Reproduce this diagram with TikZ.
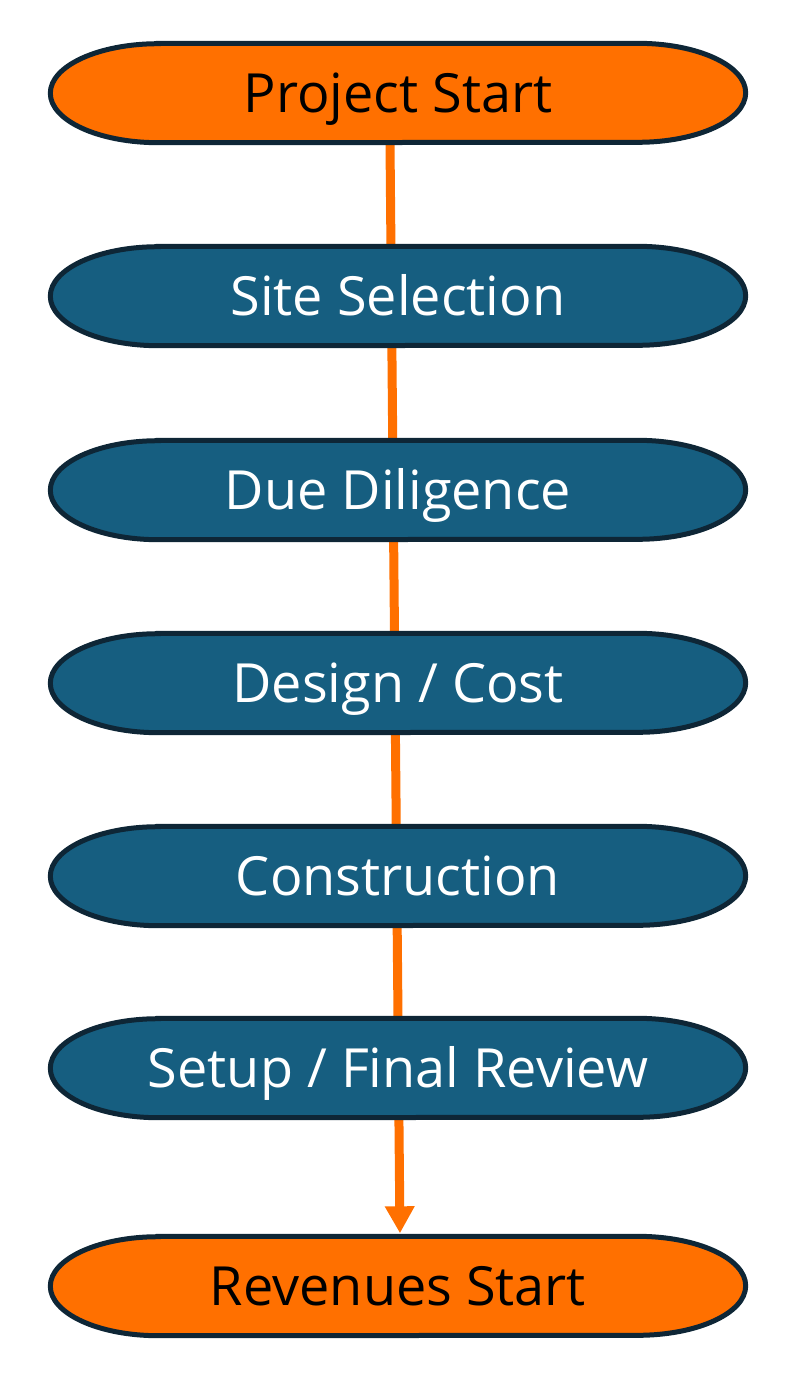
\documentclass[tikz,border=0pt]{standalone}
\usepackage{fontspec}
\setmainfont{Open Sans}
\usepackage{tikz}
\usetikzlibrary{arrows.meta,backgrounds,calc}
\definecolor{PhaseOrange}{HTML}{FF7000}
\definecolor{PhaseBlue}{HTML}{165E80}
\definecolor{PhaseEdge}{HTML}{0E2636}
\tikzset{
  phasebox/.style={minimum width=695pt,minimum height=99pt,inner sep=0pt,
    text height=38pt,text depth=0pt,
    font=\fontsize{54}{64}\selectfont,text=white},
  milestone/.style={phasebox,text=black},
  capsule/.style={draw=PhaseEdge,line width=5pt},
  timeline/.style={-{Triangle[length=27pt,width=28pt]},line width=9pt,draw=PhaseOrange}
}
\newcommand{\capsulepath}[2]{%
  \path[capsule,fill=#2] ($(#1.north west)+(108,0)$) -- ($(#1.north east)+(-108,0)$)
    arc[start angle=90,end angle=-90,x radius=108,y radius=49.5]
    -- ($(#1.south west)+(108,0)$)
    arc[start angle=270,end angle=90,x radius=108,y radius=49.5] -- cycle;}

\begin{document}
\begin{tikzpicture}[x=1pt,y=1pt]
  \useasboundingbox (0,0) rectangle (797,-1379);

  \node[milestone] (start) at (398,-93) {Project Start};
  \node[phasebox] (site) at (398,-296) {Site Selection};
  \node[phasebox] (diligence) at (398,-490) {Due Diligence};
  \node[phasebox] (design) at (398,-683) {Design / Cost};
  \node[phasebox] (construction) at (398,-876) {Construction};
  \node[phasebox] (setup) at (398,-1068) {Setup / Final Review};
  \node[milestone] (revenue) at (398,-1286) {Revenues Start};

  \begin{scope}[on background layer]
    \draw[timeline,shorten >=3pt] ([xshift=-8pt]start.south) -- ([xshift=2pt]revenue.north);
    \capsulepath{start}{PhaseOrange}
    \foreach \n in {site,diligence,design,construction,setup}
      {\capsulepath{\n}{PhaseBlue}}
    \capsulepath{revenue}{PhaseOrange}
  \end{scope}
\end{tikzpicture}
\end{document}
